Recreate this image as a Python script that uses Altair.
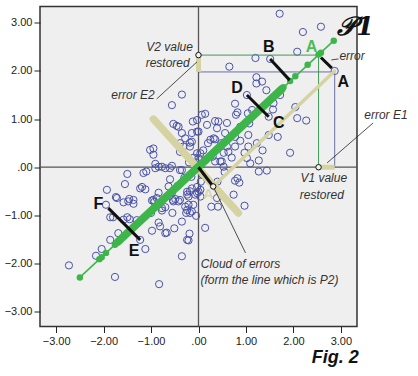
import altair as alt
import pandas as pd

# ---------------- data (in data units) ----------------
blue_x = [1.71, 2.58, 2.20, 2.08, 1.20, 1.51, 0.65, 2.87, 1.22, 1.34, 1.22, 1.43, 1.02, 1.72, 1.58, 0.77,
          1.57, 2.04, 2.08, 2.27, 0.14, 0.35, 0.60, 0.82, 1.13, 1.04, 0.79, 1.48, 0.07, -0.03, 0.42, 0.39,
          0.18, 0.56, 1.07, 1.67, 1.48, 1.05, 0.88, 1.93, 0.32, 0.60, 1.05, 1.09, 1.27, 0.00, 0.25, 0.20,
          0.48, 0.77, 0.77, 0.63, 0.53, 0.97, 1.23, 0.04, 0.00, 0.46, 0.53, 1.02, 0.35, 0.14, 0.35, 0.49,
          0.10, 0.30, 0.88, 1.35, 0.70, 0.05,
          1.27, 1.44, 0.82, 0.86, 0.77, 0.74, 0.39, 0.27, 0.41, 0.97, 0.14, 0.04, 0.04, 0.08, 0.05, 0.55, 0.40,
          -0.35, -0.56, -0.53, -0.46, -0.42, -0.35, -0.28, -0.18, -0.39, -0.14, -0.03, -0.12, -0.14, -1.02,
          -0.95, -0.95, -0.91, -0.84, -0.91, -0.77, -0.60, -0.70, -0.39, -0.35, -0.39, -0.32, -0.18, -0.03,
          -0.56, -0.10, -0.20, -0.05,
          -1.16, -1.10, -1.50, -1.55, -1.93, -1.23, -1.19, -1.74, -1.12, -1.58, -1.48, -1.37, -1.46, -1.37,
          -1.95, -1.86, -1.80, -1.50, -1.45, -0.98, -0.93, -0.77, -0.70, -0.54, -0.39, -0.28, -0.24, -0.18,
          -0.03, -0.26, -0.14, -0.05, -0.35, -0.84, -0.81, -0.98, -0.70, -0.51, -0.19, -0.24, -1.69, -1.86,
          -1.23, -1.12, -2.04, -2.16, -2.73, -0.35, -1.76, -0.83, -0.84, -0.88, -0.63, -0.44, -0.24, -0.53,
          -0.42, -0.21, -0.11, -0.77, -0.24, -0.18, -0.67, -0.21, -1.58, -0.56, -0.49, -0.21, -0.14, -0.03,
          0.00, -0.07, -0.95, -1.72, -0.60, -0.30, -0.15, -1.30, -1.00, -0.55]
blue_y = [3.19, 2.92, 2.81, 2.40, 2.27, 2.25, 2.09, 2.00, 1.87, 1.78, 1.74, 1.60, 1.50, 1.50, 1.33, 1.32,
          1.20, 1.25, 1.02, 0.97, 1.11, 0.96, 0.92, 1.14, 1.19, 1.12, 1.09, 1.05, 1.09, 0.98, 0.95, 0.81,
          0.88, 0.71, 0.91, 0.63, 0.67, 0.67, 0.84, 0.30, 0.60, 0.43, 0.43, 0.08, 0.14, 0.74, 0.57, 0.50,
          0.50, 0.63, 0.43, 0.32, 0.30, 0.30, 0.50, 0.29, 0.19, 0.12, 0.01, 0.19, 0.58, 0.15, 0.12, 0.12,
          0.35, 0.22, 0.55, 0.35, 0.20, 0.05,
          -0.09, -0.07, -0.23, -0.32, -0.28, -0.57, -0.64, -0.82, -0.82, -0.80, -1.26, -0.47, -0.61, -0.15,
          -0.30, -0.10, -0.30,
          1.51, 1.29, 0.90, 0.86, 0.84, 0.71, 0.60, 0.51, 0.50, 0.71, 0.74, 0.95, 0.53, 0.36,
          0.39, 0.26, 0.07, 0.01, -0.02, 0.01, -0.02, -0.02, -0.06, -0.06, 0.32, 0.43, 0.43, 0.29,
          0.03, 0.20, 0.10, 0.10,
          -0.12, -0.09, -0.14, -0.35, -0.47, -0.44, -0.41, -0.62, -0.46, -0.73, -0.71, -0.76, -0.66, -0.68,
          -0.78, -1.04, -1.04, -1.04, -1.08, -0.69, -0.72, -0.85, -0.83, -0.68, -0.68, -0.82, -0.57, -0.50,
          -0.54, -0.95, -0.92, -1.01, -1.13, -1.15, -1.23, -1.32, -1.37, -1.27, -1.38, -1.51, -1.37, -1.51,
          -1.51, -1.70, -1.70, -1.84, -2.04, -1.85, -2.28, -2.43, -0.53, -0.64, -0.40, -0.39, -0.51, -0.71,
          -0.71, -0.78, -0.78, -0.90, -0.89, -0.95, -1.36, -1.52, -1.09, -0.53, -0.66, -0.61, -0.44, -0.41,
          -0.51, -0.57, -0.68, -0.64, -0.25, -0.22, -0.20, -1.10, -0.95, -0.95]

green_dot_x = [-2.50, -2.09, -2.04, -1.95, -1.76, -1.66, 1.70, 1.79, 1.93, 2.04, 2.30, 2.53, 2.58, 2.85]
green_dot_y = [-2.29, -1.91, -1.87, -1.78, -1.61, -1.52, 1.57, 1.66, 1.79, 1.89, 2.13, 2.34, 2.38, 2.63]
green_line_x = [-2.50, 2.85]
green_line_y = [-2.29, 2.63]
green_band_x = [-1.70, 1.75]
green_band_y = [-1.55, 1.62]

# segments: x, y, x2, y2
tan_thick = [(-0.95, 1.00, 0.84, -0.95)]
tan_thin = [(2.87, 2.00, 0.31, -0.40)]
tan_short = [(2.53, 0.00, 2.87, 0.00), (0.00, 2.33, 0.00, 1.98)]
green_rect = [(0.00, 2.33, 2.53, 2.33), (2.53, 2.33, 2.53, 0.00)]
blue_rect = [(0.00, 1.98, 2.87, 1.98), (2.87, 1.98, 2.87, 0.00)]
black_err = [(1.51, 2.25, 1.92, 1.81), (1.02, 1.50, 1.48, 1.05), (2.58, 2.28, 2.81, 2.06),
             (-1.90, -0.85, -1.23, -1.51), (0.00, 0.00, 0.31, -0.40)]
leaders = [(-0.88, 1.42, -0.03, 2.19), (3.68, 0.92, 2.71, 0.09), (2.80, 2.23, 2.95, 2.25),
           (0.31, -0.40, 0.99, -1.78)]
marker_x = [0.00, 2.53, 0.31]
marker_y = [2.33, 0.00, -0.40]

letters = ["B", "A", "D", "C", "F", "E"]
letters_x = [1.48, 3.05, 0.81, 1.69, -2.11, -1.36]
letters_y = [2.50, 1.78, 1.64, 0.91, -0.76, -1.75]

notes = ["V2 value", "restored", "error E2", "error E1", "V1 value", "restored"]
notes_x = [-0.61, -0.65, -1.38, 3.95, 2.64, 2.60]
notes_y = [2.50, 2.17, 1.50, 1.09, -0.22, -0.57]
left_notes = ["error", "Cloud of errors", "(form the line which is P2)"]
left_notes_x = [2.97, 0.05, 0.04]
left_notes_y = [2.31, -2.01, -2.34]

ticks = [-3, -2, -1, 0, 1, 2, 3]

# ---------------- chart ----------------
FONT = "Arial, Liberation Sans, sans-serif"
xs = alt.Scale(domain=[-3.34, 3.34], nice=False, zero=False)
ys = alt.Scale(domain=[-3.31, 3.34], nice=False, zero=False)
lbl = "datum.value == 0 ? '.00' : format(datum.value, '.2f')"
xax = alt.Axis(values=ticks, labelExpr=lbl, title=None, grid=False, domain=False,
               tickSize=6, tickColor="#222", labelPadding=3, labelFontSize=11,
               labelColor="#222", labelFont=FONT)
yax = alt.Axis(values=ticks, labelExpr=lbl, title=None, grid=False, domain=False,
               tickSize=6, tickColor="#222", labelPadding=2, labelFontSize=11,
               labelColor="#222", labelFont=FONT)


def X(f):
    return alt.X(f, type="quantitative", scale=xs, axis=xax)


def Y(f):
    return alt.Y(f, type="quantitative", scale=ys, axis=yax)


def segdf(segs):
    return pd.DataFrame(segs, columns=["x", "y", "x2", "y2"])


def seg_layer(segs, color, width, cap="round"):
    return alt.Chart(segdf(segs)).mark_rule(color=color, strokeWidth=width, strokeCap=cap).encode(
        x=X("x"), y=Y("y"), x2="x2", y2="y2")


ref_v = alt.Chart(pd.DataFrame({"x": [0]})).mark_rule(color="#555", strokeWidth=1.3).encode(x=X("x"))
ref_h = alt.Chart(pd.DataFrame({"y": [0]})).mark_rule(color="#555", strokeWidth=1.3).encode(y=Y("y"))

blue = alt.Chart(pd.DataFrame({"x": blue_x, "y": blue_y})).mark_point(
    shape="circle", filled=False, color="#4a52a8", size=52, strokeWidth=1, opacity=1).encode(
    x=X("x"), y=Y("y"))

TAN = "#d6d3a2"
tan1 = seg_layer(tan_thick, TAN, 7.5)
tan2 = seg_layer(tan_thin, TAN, 3.5)
tan3 = seg_layer(tan_short, TAN, 5, cap="butt")
grect = seg_layer(green_rect, "#3f9a55", 1, cap="butt")
brect = seg_layer(blue_rect, "#6a6fa8", 1, cap="butt")

GREEN = "#3db54a"
gline = alt.Chart(pd.DataFrame({"x": green_line_x, "y": green_line_y})).mark_line(
    color=GREEN, strokeWidth=1.5).encode(x=X("x"), y=Y("y"))
gband = alt.Chart(pd.DataFrame({"x": green_band_x, "y": green_band_y})).mark_line(
    color=GREEN, strokeWidth=8, strokeCap="round").encode(x=X("x"), y=Y("y"))
gdots = alt.Chart(pd.DataFrame({"x": green_dot_x, "y": green_dot_y})).mark_circle(
    color=GREEN, size=42, opacity=1).encode(x=X("x"), y=Y("y"))

blk = seg_layer(black_err, "#111", 3, cap="butt")
lead = seg_layer(leaders, "#222", 0.8, cap="butt")
markers = alt.Chart(pd.DataFrame({"x": marker_x, "y": marker_y})).mark_point(
    shape="circle", filled=True, fill="#f2f2ee", stroke="#111", size=30, strokeWidth=1, opacity=1).encode(
    x=X("x"), y=Y("y"))

t_letters = alt.Chart(pd.DataFrame({"x": letters_x, "y": letters_y, "t": letters})).mark_text(
    font=FONT, fontSize=16, fontWeight="bold", color="#111", baseline="middle", align="center").encode(
    x=X("x"), y=Y("y"), text="t:N")
t_greenA = alt.Chart(pd.DataFrame({"x": [2.38], "y": [2.50], "t": ["A"]})).mark_text(
    font=FONT, fontSize=16, fontWeight="bold", color="#4cbb5a", baseline="middle", align="center").encode(
    x=X("x"), y=Y("y"), text="t:N")
t_tanA = alt.Chart(pd.DataFrame({"x": [0.21], "y": [-0.55], "t": ["A"]})).mark_text(
    font=FONT, fontSize=15, fontWeight="bold", color="#dcd6b0", baseline="middle", align="center").encode(
    x=X("x"), y=Y("y"), text="t:N")
t_notes = alt.Chart(pd.DataFrame({"x": notes_x, "y": notes_y, "t": notes})).mark_text(
    font=FONT, fontSize=12, fontStyle="italic", color="#333", baseline="middle", align="center").encode(
    x=X("x"), y=Y("y"), text="t:N")
t_left = alt.Chart(pd.DataFrame({"x": left_notes_x, "y": left_notes_y, "t": left_notes})).mark_text(
    font=FONT, fontSize=12, fontStyle="italic", color="#333", baseline="middle", align="left").encode(
    x=X("x"), y=Y("y"), text="t:N")
t_fig = alt.Chart(pd.DataFrame({"x": [2.88], "y": [-3.96], "t": ["Fig. 2"]})).mark_text(
    font=FONT, fontSize=18, fontWeight="bold", fontStyle="italic", color="#111",
    baseline="middle", align="center").encode(x=X("x"), y=Y("y"), text="t:N")
t_p1 = alt.Chart(pd.DataFrame({"x": [3.31], "y": [2.91], "t": ["\U0001D4AB1"]})).mark_text(
    font="DejaVu Serif, Liberation Serif, serif", fontSize=26, fontWeight="bold", fontStyle="italic",
    color="#111", baseline="middle", align="center").encode(x=X("x"), y=Y("y"), text="t:N")

chart = alt.layer(
    ref_v, ref_h, blue, grect, brect, tan1, tan2, tan3, gline, gband, gdots, blk, lead, markers,
    t_letters, t_greenA, t_tanA, t_notes, t_left, t_fig, t_p1
).properties(
    width=317, height=320,
    autosize=alt.AutoSizeParams(type="none"),
    padding={"left": 40, "top": 6.5, "right": 61, "bottom": 49.5},
    background="white",
).configure_view(
    fill="#efefef", stroke="#333", strokeWidth=1.5
)

chart.save("out.html", embed_options={"renderer": "svg", "actions": False})
